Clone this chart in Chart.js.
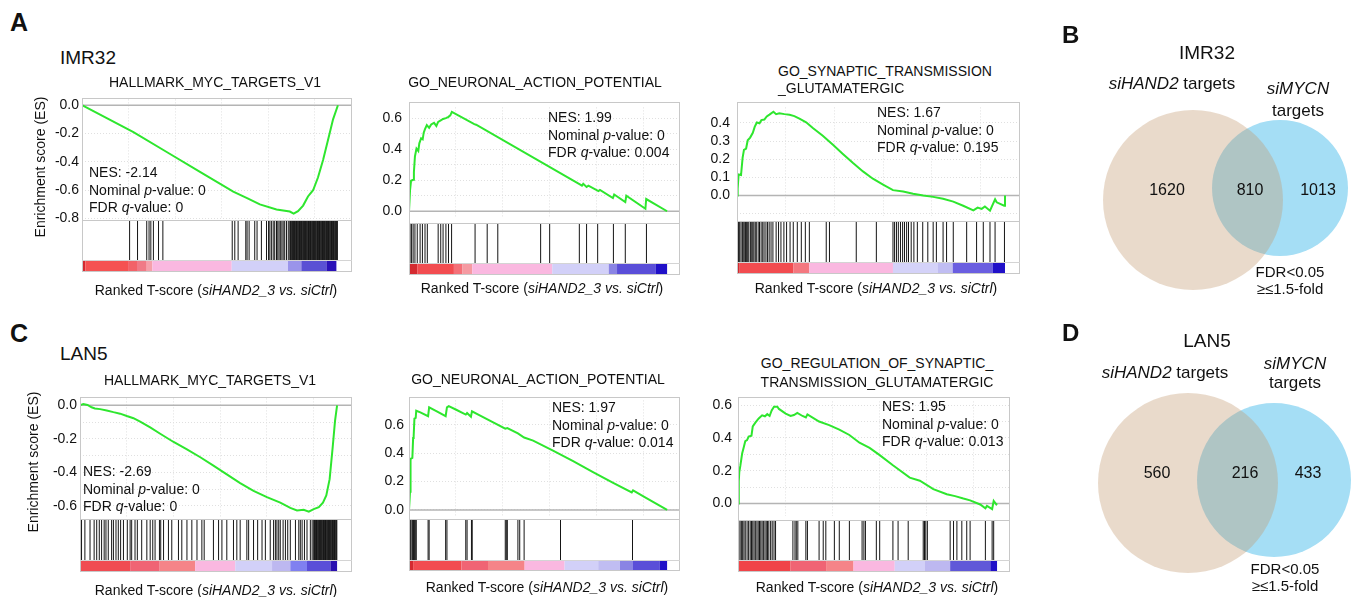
<!DOCTYPE html>
<html>
<head>
<meta charset="utf-8">
<script src="https://cdn.jsdelivr.net/npm/chart.js@4.4.1/dist/chart.umd.min.js"></script>
<style>
body { margin:0; background:#fff; width:1357px; height:597px; overflow:hidden; position:relative;
       font-family:"Liberation Sans", Arial, sans-serif; color:#111; }
canvas { position:absolute; }
.t { position:absolute; white-space:nowrap; line-height:1; }
.frame { position:absolute; box-sizing:border-box; border:1px solid #c8c8c8; pointer-events:none; z-index:2; }
</style>
</head>
<body>
<script>
// ---- enrichment score curves: [rank in % of list, ES] ----
const esA1 = [[0,0],[20.1,-0.19],[33.1,-0.33],[46.1,-0.47],[59.1,-0.61],[64.5,-0.655],[69.5,-0.70],[76.0,-0.736],
  [81.2,-0.75],[82.7,-0.765],[84.4,-0.747],[86.4,-0.708],[88.3,-0.644],[90.3,-0.60],[92.2,-0.51],[94.2,-0.386],
  [96.1,-0.248],[98.1,-0.10],[100,0]];
const esA2 = [[0,0],[0.4,0.134],[0.8,0.197],[1.6,0.203],[1.9,0.252],[2.3,0.354],[2.9,0.405],[3.6,0.39],[4.0,0.439],
  [4.7,0.472],[5.3,0.465],[5.7,0.508],[6.2,0.531],[6.9,0.557],[7.8,0.539],[8.6,0.561],[9.7,0.571],[10.6,0.551],
  [11.3,0.577],[12.3,0.587],[13.2,0.596],[14.3,0.602],[15.3,0.610],[16.0,0.620],[16.6,0.642],[25.3,0.563],
  [26.0,0.559],[66.2,0.173],[67.0,0.165],[67.5,0.177],[68.8,0.157],[69.5,0.165],[73.4,0.130],[74.0,0.138],
  [79.0,0.085],[79.5,0.108],[83.8,0.059],[84.2,0.100],[91.6,0.016],[91.9,0.079],[100,0]];
const esA3 = [[0,0],[0.25,0.038],[0.6,0.116],[1.5,0.113],[2.1,0.209],[2.6,0.252],[3.4,0.259],[4.0,0.304],[4.9,0.319],
  [5.9,0.345],[6.6,0.378],[7.4,0.402],[8.4,0.398],[9.1,0.415],[10.2,0.418],[11.1,0.435],[12.1,0.445],[13.6,0.461],
  [14.6,0.448],[15.8,0.453],[17.7,0.448],[19.6,0.445],[21.4,0.437],[23.3,0.423],[25.8,0.403],[28.3,0.372],
  [32.0,0.329],[35.8,0.279],[39.5,0.229],[43.3,0.179],[47.0,0.133],[50.7,0.093],[54.5,0.060],[58.2,0.030],
  [62.0,0.022],[65.7,0.010],[69.5,0],[73.2,-0.007],[76.9,-0.017],[80.7,-0.033],[84.4,-0.056],[88.2,-0.081],
  [89.8,-0.066],[91.3,-0.073],[92.5,-0.060],[94.4,-0.083],[96.3,-0.020],[96.9,-0.037],[99.7,-0.056],[100,0]];
const esC1 = [[0,0],[1.3,0.008],[2.9,0.002],[4.5,-0.012],[5.8,-0.019],[7.8,-0.023],[10.4,-0.031],[13.0,-0.041],
  [15.6,-0.050],[18.2,-0.064],[20.8,-0.077],[23.4,-0.097],[27.3,-0.132],[31.2,-0.170],[36.4,-0.219],[41.6,-0.263],
  [46.8,-0.310],[51.9,-0.360],[57.1,-0.412],[62.3,-0.464],[67.5,-0.511],[72.7,-0.548],[77.9,-0.581],[81.8,-0.612],
  [84.4,-0.627],[87.0,-0.623],[89.0,-0.635],[90.9,-0.619],[92.9,-0.608],[94.5,-0.581],[95.8,-0.538],[97.1,-0.441],
  [98.3,-0.248],[99.2,-0.093],[100,0]];
const esC2 = [[0,0],[0.4,0.129],[0.6,0.36],[1.3,0.367],[1.6,0.507],[1.8,0.518],[2.1,0.644],[2.6,0.649],[2.8,0.70],
  [4.4,0.689],[7.4,0.662],[7.8,0.724],[10.6,0.698],[14.2,0.662],[14.7,0.724],[15.4,0.733],[18.3,0.707],[22.0,0.673],
  [22.5,0.684],[24.0,0.658],[24.4,0.696],[27.4,0.667],[37.3,0.573],[38.1,0.578],[42.2,0.54],[44.6,0.511],
  [48.1,0.489],[55.8,0.418],[63.6,0.344],[71.3,0.267],[79.1,0.191],[86.3,0.124],[86.8,0.138],[92.0,0.084],[100,0]];
const esC3 = [[0,0],[0.3,0.135],[0.5,0.192],[0.9,0.229],[1.6,0.305],[2.2,0.342],[2.8,0.38],[3.5,0.387],[4.1,0.408],
  [5.2,0.414],[5.7,0.47],[6.7,0.493],[8.0,0.519],[9.3,0.538],[10.4,0.532],[11.3,0.545],[12.2,0.534],[13.0,0.568],
  [13.9,0.591],[15.2,0.591],[15.8,0.577],[18.4,0.549],[20.3,0.534],[21.6,0.54],[22.9,0.553],[24.9,0.534],
  [26.2,0.525],[26.8,0.544],[31.3,0.50],[35.2,0.478],[39.1,0.451],[43.0,0.418],[46.9,0.371],[50.8,0.339],
  [54.7,0.295],[59.8,0.233],[66.3,0.158],[70.2,0.139],[75.4,0.088],[80.6,0.056],[83.8,0.045],[87.0,0.030],
  [89.6,0.019],[93.5,-0.006],[95.5,-0.030],[96.1,-0.015],[98.1,-0.034],[98.7,0.015],[99.7,-0.006],[100,0]];

// ---- gene set hits (rank in % of list) ----
const hitsA1 = [18.6,21.7,25.3,26.2,26.9,27.9,29.9,31.6,58.7,59.7,61.0,64.0,64.5,65.3,67.5,68.4,70.1,72.1,72.9,
  73.4,74.0,74.7,75.3,76.0,76.5,77.0,77.5,78.1,78.6,79.2,79.9,80.6,81.2,81.5,81.7,82.0,82.2,82.5,82.7,83.0,83.2,
  83.5,83.8,84.0,84.3,84.5,84.8,85.0,85.3,85.5,85.8,86.0,86.3,86.5,86.8,87.0,87.3,87.5,87.8,88.0,88.3,88.5,88.8,
  89.0,89.3,89.5,89.8,90.0,90.3,90.5,90.8,91.0,91.3,91.5,91.8,92.0,92.3,92.5,92.8,93.0,93.3,93.5,93.8,94.0,94.3,
  94.5,94.8,95.0,95.3,95.5,95.8,96.0,96.3,96.5,96.8,97.0,97.3,97.5,97.8,98.0,98.3,98.5,98.8,99.0,99.3,99.5,99.8];
const hitsA2 = [0.4,1.0,1.6,2.3,3.2,4.3,5.2,6.2,7.1,11.3,12.3,13.2,14.3,15.3,16.5,25.6,30.3,34.4,51.0,54.5,66.0,
  68.8,73.1,79.2,83.8,92.0];
const hitsA3 = [0.3,0.6,1.0,1.5,2.0,2.3,2.7,3.2,3.6,4.0,4.4,5.0,5.5,5.9,6.3,6.8,7.2,7.9,8.4,9.0,9.6,10.1,10.8,11.4,
  12.0,12.7,13.4,14.6,15.5,16.4,17.5,18.5,19.8,21.0,22.5,24.0,25.5,27.0,33.3,34.5,44.5,52.0,58.2,58.8,59.5,60.2,
  61.0,61.8,62.5,63.3,64.0,65.0,66.0,67.3,69.3,71.2,73.2,74.4,76.9,78.2,80.7,85.7,89.4,91.9,94.4,96.3,99.8];
const hitsC1 = [0.6,1.9,3.9,5.5,6.5,7.5,8.4,9.4,10.1,11.0,12.3,13.0,14.0,14.9,15.8,16.9,18.4,19.5,20.1,21.4,22.3,
  24.0,26.0,27.3,28.3,29.2,30.9,31.4,32.5,34.4,35.7,38.3,39.6,41.6,43.5,45.5,47.4,48.3,51.9,53.9,55.2,57.1,59.7,
  61.0,62.3,64.9,65.6,67.5,69.1,70.8,72.1,74.0,75.3,76.0,76.6,77.3,77.9,79.0,79.9,80.8,81.8,83.8,85.1,85.7,86.4,
  87.3,88.3,89.6,90.3,90.9,91.2,91.5,91.7,92.0,92.2,92.5,92.7,93.0,93.2,93.5,93.7,94.0,94.2,94.5,94.7,95.0,95.2,
  95.5,95.7,96.0,96.2,96.5,96.7,97.0,97.2,97.5,97.7,98.0,98.2,98.5,98.7,99.0,99.2,99.5,99.7,99.9];
const hitsC2 = [0.5,0.8,1.3,1.6,1.8,2.1,2.6,2.8,7.4,7.8,14.2,14.7,22.0,22.5,24.2,24.5,37.3,37.7,38.1,42.2,42.9,
  44.6,58.7,86.6];
const hitsC3 = [0.3,0.8,1.3,1.8,2.3,2.8,3.5,4.1,4.7,5.2,5.7,6.2,6.7,7.3,7.8,8.3,8.8,9.3,9.8,10.4,10.9,11.4,11.9,
  12.6,13.2,13.9,14.5,21.2,22.0,22.5,23.1,26.2,26.8,31.3,32.9,33.9,37.2,39.1,43.0,47.9,48.6,49.2,53.4,54.7,59.8,
  61.8,65.7,71.5,72.0,72.5,73.1,81.9,83.2,84.5,86.4,88.3,89.6,95.5,98.1,98.7];

// ---- ranked list colour bar: block edges (%) and block colours ----
const barEdgesA1 = [0,1.3,18,21.5,25.3,27.5,58.5,80.5,85.7,95.5,99.4];
const barColorsA1 = ['#d42a30','#f55252','#f26268','#f07a86','#f5a0aa','#fab8e0','#d2d0f8','#9a94ea','#5a50d4','#2a10b8'];
const barEdgesA2 = [0,3.2,17.4,20.6,24.5,55.5,77.4,80.6,95.5,100];
const barColorsA2 = ['#d42a30','#f24c50','#f47078','#f59aa2','#fab8e0','#d2d0f8','#8a84e4','#5a4ed8','#2010c8'];
const barEdgesA3 = [0,1,21,27,58.2,75,80.5,95.5,100];
const barColorsA3 = ['#d42a30','#f24c50','#f47880','#fab8e0','#d4d2f8','#c0bdf2','#6a5ee0','#2010c8'];
const barEdgesC1 = [0,19.5,31,44.8,60.4,74.7,81.8,88.3,97.4,100];
const barColorsC1 = ['#f04c52','#f06474','#f58488','#fab8e0','#d2d0f8','#bdb8f0','#8080f0','#5a4ed8','#2a10b0'];
const barEdgesC2 = [0,1.6,20.3,30.6,44.8,60.3,73.3,81.7,86.8,97.2,100];
const barColorsC2 = ['#d42a30','#f24c50','#f06474','#f58488','#fab8e0','#d2d0f8','#c0bdf2','#8a84e4','#5a4ed8','#2010c8'];
const barEdgesC3 = [0,20.3,34,44.6,60.5,72,81.9,97.4,100];
const barColorsC3 = ['#f04448','#f06474','#f58488','#fab8e0','#d2d0f8','#bdb8f0','#6058d8','#2010c8'];

// vertical grid positions (% of ranked list)
const xGridTicks = [18.18,36.36,54.55,72.73,90.91];

// ---- Venn circles: centre x, centre y, radius (px inside each Venn canvas) ----
const vennB = [[133,200,90],[220,188,68]];
const vennD = [[128,183,90],[214,180,77]];
const vennCountsB = ['1620','810','1013'];
const vennCountsD = ['560','216','433'];

const FONT = '"Liberation Sans", Arial, sans-serif';

const panels = [
  {L:82,  R:352,  esTop:98,  esBot:220, hitBot:260, barBot:271, yMin:-0.8,   yMax:0.041, step:0.2, labMin:-1, pad:3, xMax:105.5,
   es:esA1, hits:hitsA1, edges:barEdgesA1, colors:barColorsA1},
  {L:409, R:680,  esTop:102, esBot:223, hitBot:263, barBot:274, yMin:-0.041, yMax:0.671, step:0.2, labMin:-1, pad:7, xMax:105.0,
   es:esA2, hits:hitsA2, edges:barEdgesA2, colors:barColorsA2},
  {L:737, R:1020, esTop:102, esBot:221, hitBot:262, barBot:273, yMin:-0.11,  yMax:0.485, step:0.1, labMin:0, pad:7, xMax:105.6,
   es:esA3, hits:hitsA3, edges:barEdgesA3, colors:barColorsA3},
  {L:80,  R:352,  esTop:397, esBot:519, hitBot:560, barBot:571, yMin:-0.67,  yMax:0.041, step:0.2, labMin:-1, pad:3, xMax:105.8,
   es:esC1, hits:hitsC1, edges:barEdgesC1, colors:barColorsC1},
  {L:409, R:680,  esTop:397, esBot:519, hitBot:560, barBot:570, yMin:-0.04,  yMax:0.773, step:0.2, labMin:-1, pad:5, xMax:105.0,
   es:esC2, hits:hitsC2, edges:barEdgesC2, colors:barColorsC2},
  {L:738, R:1010, esTop:397, esBot:520, hitBot:560, barBot:571, yMin:-0.074, yMax:0.623, step:0.2, labMin:-1, pad:6, xMax:105.0,
   es:esC3, hits:hitsC3, edges:barEdgesC3, colors:barColorsC3}
];

function txt(html, x, y, size, o) {
  o = o || {};
  const d = document.createElement('div');
  d.className = 't';
  d.innerHTML = html;
  d.style.left = x + 'px';
  d.style.top = y + 'px';
  d.style.fontSize = size + 'px';
  if (o.bold) d.style.fontWeight = 'bold';
  const tx = o.align === 'center' ? '-50%' : '0';
  d.style.transform = 'translate(' + tx + ',-50%)' + (o.rotate ? ' rotate(' + o.rotate + 'deg)' : '');
  document.body.appendChild(d);
}

function box(x, y, w, h, css) {
  const d = document.createElement('div');
  d.className = 'frame';
  d.style.left = x + 'px'; d.style.top = y + 'px';
  d.style.width = w + 'px'; d.style.height = h + 'px';
  if (css) d.style.cssText += css;
  document.body.appendChild(d);
}

function canvasAt(x, y, w, h) {
  const c = document.createElement('canvas');
  c.width = w; c.height = h;
  c.style.left = x + 'px'; c.style.top = y + 'px';
  document.body.appendChild(c);
  return c;
}

const base = {
  responsive: false, animation: false, events: [],
  plugins: { legend: { display: false }, tooltip: { enabled: false } }
};

function esChart(p) {
  const axisW = 44, padT = 10;
  const w = p.R - p.L, h = p.esBot - p.esTop;
  const c = canvasAt(p.L - axisW, p.esTop - padT, w + axisW + 4, h + 2 * padT);
  new Chart(c, {
    type: 'line',
    data: { datasets: [
      { data: p.es.map(d => ({ x: d[0], y: d[1] })), borderColor: '#2ee62e', borderWidth: 2, pointRadius: 0 },
      { data: [{ x: 0, y: 0 }, { x: p.xMax, y: 0 }], borderColor: '#b4b4b4', borderWidth: 1.5, pointRadius: 0 }
    ]},
    options: Object.assign({}, base, {
      layout: { autoPadding: false, padding: { left: 0, right: 4, top: padT, bottom: padT } },
      scales: {
        x: { type: 'linear', min: 0, max: p.xMax,
             ticks: { display: false },
             grid: { color: '#e0e0e0', drawTicks: false },
             border: { display: false, dash: [1, 2] },
             afterBuildTicks: s => { s.ticks = xGridTicks.filter(v => v < p.xMax).map(v => ({ value: v })); },
             afterFit: s => { s.height = 0; } },
        y: { min: p.yMin, max: p.yMax,
             ticks: { padding: p.pad, color: '#111', font: { family: FONT, size: 14 },
                      callback: v => (v >= p.labMin - 1e-6 && Math.abs(v / p.step - Math.round(v / p.step)) < 1e-6) ? v.toFixed(1) : '' },
             grid: { color: '#e0e0e0', drawTicks: false },
             border: { display: false, dash: [1, 2] },
             afterBuildTicks: s => {
               const t = [];
               for (let k = Math.ceil(p.yMin * 10 - 1e-6); k <= Math.floor(p.yMax * 10 + 1e-6); k++) t.push({ value: k / 10 });
               s.ticks = t;
             },
             afterFit: s => { s.width = axisW; } }
      }
    })
  });
}

function stripChart(p) {
  const w = p.R - p.L, hh = p.hitBot - p.esBot, bh = p.barBot - p.hitBot, H = hh + bh;
  const c = canvasAt(p.L, p.esBot, w, H);
  new Chart(c, {
    type: 'line',
    data: { datasets: [
      { data: p.hits.map(x => ({ x: x, y: (bh + hh / 2) / H })), showLine: false,
        pointStyle: 'line', pointRotation: 90, pointRadius: hh / 2,
        pointBorderColor: '#151515', pointBorderWidth: 1 },
      { data: p.edges.map(x => ({ x: x, y: bh / 2 / H })), borderWidth: bh, borderCapStyle: 'butt', pointRadius: 0,
        segment: { borderColor: ctx => p.colors[ctx.p0DataIndex] } }
    ]},
    options: Object.assign({}, base, {
      layout: { autoPadding: false, padding: 0 },
      scales: {
        x: { type: 'linear', min: 0, max: p.xMax, display: false },
        y: { min: 0, max: 1, display: false }
      }
    })
  });
  box(p.L, p.esTop, w, p.esBot - p.esTop + 1);
  box(p.L, p.esBot, w, p.barBot - p.esBot + 1);
  box(p.L, p.hitBot, w, 1, 'border:none;border-top:1px solid #d4d4d4;');
}

panels.forEach(p => { esChart(p); stripChart(p); });

function vennChart(top, circles) {
  const c = canvasAt(1060, top, 297, 297);
  new Chart(c, {
    type: 'bubble',
    data: { datasets: [
      { data: [{ x: circles[0][0], y: circles[0][1], r: circles[0][2] }], backgroundColor: 'rgba(194,153,111,0.36)', borderWidth: 0 },
      { data: [{ x: circles[1][0], y: circles[1][1], r: circles[1][2] }], backgroundColor: '#a5def5', borderWidth: 0 }
    ]},
    options: Object.assign({}, base, {
      layout: { autoPadding: false, padding: 0 },
      scales: {
        x: { min: 0, max: 297, display: false },
        y: { min: 0, max: 297, reverse: true, display: false }
      }
    })
  });
}
vennChart(0, vennB);
vennChart(300, vennD);

// ---- text ----
const xTitle = 'Ranked T-score (<i>siHAND2_3 vs. siCtrl</i>)';
const nes = (a, b, c) => 'NES: ' + a + '<br>Nominal <i>p</i>-value: ' + b + '<br>FDR <i>q</i>-value: ' + c;

txt('A', 10, 22, 25, { bold: true });
txt('IMR32', 60, 57, 19);
txt('C', 10, 333, 25, { bold: true });
txt('LAN5', 60, 353, 19);
txt('Enrichment score (ES)', 40, 167, 14, { align: 'center', rotate: -90 });
txt('Enrichment score (ES)', 33, 462, 14, { align: 'center', rotate: -90 });

txt('HALLMARK_MYC_TARGETS_V1', 215, 82, 14, { align: 'center' });
txt('GO_NEURONAL_ACTION_POTENTIAL', 535, 82, 14, { align: 'center' });
txt('GO_SYNAPTIC_TRANSMISSION', 778, 71, 14);
txt('_GLUTAMATERGIC', 778, 88, 14);
txt('HALLMARK_MYC_TARGETS_V1', 210, 380, 14, { align: 'center' });
txt('GO_NEURONAL_ACTION_POTENTIAL', 538, 379, 14, { align: 'center' });
txt('GO_REGULATION_OF_SYNAPTIC_', 877, 363, 14, { align: 'center' });
txt('TRANSMISSION_GLUTAMATERGIC', 877, 382, 14, { align: 'center' });

function nesBlock(html, x, y) {
  const d = document.createElement('div');
  d.className = 't';
  d.innerHTML = html;
  d.style.left = x + 'px'; d.style.top = y + 'px';
  d.style.fontSize = '14px'; d.style.lineHeight = '17.5px';
  d.style.zIndex = 3;
  document.body.appendChild(d);
}
nesBlock(nes('-2.14', '0', '0'), 89, 164);
nesBlock(nes('1.99', '0', '0.004'), 548, 109);
nesBlock(nes('1.67', '0', '0.195'), 877, 104);
nesBlock(nes('-2.69', '0', '0'), 83, 463);
nesBlock(nes('1.97', '0', '0.014'), 552, 399);
nesBlock(nes('1.95', '0', '0.013'), 882, 398);

txt(xTitle, 216, 290, 14, { align: 'center' });
txt(xTitle, 542, 288, 14, { align: 'center' });
txt(xTitle, 876, 288, 14, { align: 'center' });
txt(xTitle, 216, 590, 14, { align: 'center' });
txt(xTitle, 547, 587, 14, { align: 'center' });
txt(xTitle, 877, 587, 14, { align: 'center' });

// Venn texts
txt('B', 1062, 35, 24, { bold: true });
txt('IMR32', 1207, 52, 19, { align: 'center' });
txt('<i>siHAND2</i> targets', 1172, 83, 17, { align: 'center' });
txt('<i>siMYCN</i>', 1298, 88, 17, { align: 'center' });
txt('targets', 1298, 110, 17, { align: 'center' });
txt(vennCountsB[0], 1167, 190, 16, { align: 'center' });
txt(vennCountsB[1], 1250, 190, 16, { align: 'center' });
txt(vennCountsB[2], 1318, 190, 16, { align: 'center' });
txt('FDR&lt;0.05', 1290, 271, 15, { align: 'center' });
txt('≥≤1.5-fold', 1290, 288, 15, { align: 'center' });

txt('D', 1062, 333, 24, { bold: true });
txt('LAN5', 1207, 340, 19, { align: 'center' });
txt('<i>siHAND2</i> targets', 1165, 372, 17, { align: 'center' });
txt('<i>siMYCN</i>', 1295, 363, 17, { align: 'center' });
txt('targets', 1295, 382, 17, { align: 'center' });
txt(vennCountsD[0], 1157, 473, 16, { align: 'center' });
txt(vennCountsD[1], 1245, 473, 16, { align: 'center' });
txt(vennCountsD[2], 1308, 473, 16, { align: 'center' });
txt('FDR&lt;0.05', 1285, 568, 15, { align: 'center' });
txt('≥≤1.5-fold', 1285, 585, 15, { align: 'center' });
</script>
</body>
</html>
